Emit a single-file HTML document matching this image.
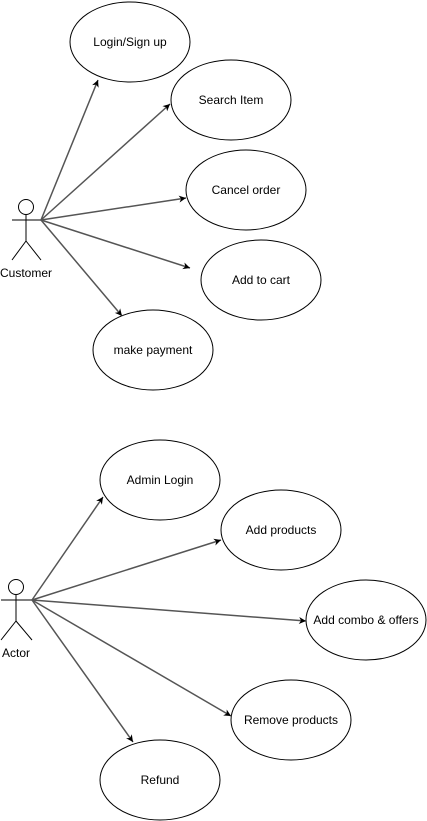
<!DOCTYPE html>
<html><head><style>body{margin:0;background:#fff}svg{display:block}</style></head><body>
<svg width="427" height="821" viewBox="0 0 427 821" xmlns="http://www.w3.org/2000/svg" font-family="Liberation Sans, sans-serif" font-size="12">
<defs><marker id="a" markerWidth="10" markerHeight="10" refX="8" refY="5" orient="auto" markerUnits="userSpaceOnUse"><path d="M1,1.5 L8,5 L1,8.5 L3,5 Z" fill="#000"/></marker></defs>
<g fill="#fff" stroke="#000" stroke-width="1">
<ellipse cx="130" cy="42" rx="60" ry="40"/>
<ellipse cx="231" cy="100" rx="60" ry="40"/>
<ellipse cx="246" cy="190" rx="60" ry="40"/>
<ellipse cx="261" cy="280" rx="60" ry="40"/>
<ellipse cx="153" cy="350" rx="60" ry="40"/>
<ellipse cx="160" cy="480" rx="60" ry="40"/>
<ellipse cx="281" cy="530" rx="60" ry="40"/>
<ellipse cx="366" cy="620" rx="60" ry="40"/>
<ellipse cx="291" cy="720" rx="60" ry="40"/>
<ellipse cx="160" cy="780" rx="60" ry="40"/>
<circle cx="26" cy="207" r="7.5"/>
<path d="M26,215V241M12,220H41M26,241L12,260M26,241L41,260" fill="none"/>
<circle cx="16" cy="587" r="7.5"/>
<path d="M16,595V621M1,600H32M16,621L1,640M16,621L32,640" fill="none"/>
</g>
<g stroke="#555" stroke-width="1.5" fill="none" marker-end="url(#a)">
<path d="M41,220L98,80"/>
<path d="M41,220L170,104"/>
<path d="M41,220L186,198"/>
<path d="M41,220L190,268"/>
<path d="M41,220L122,316"/>
<path d="M32,600L103,497"/>
<path d="M32,600L221,540"/>
<path d="M32,600L306,621"/>
<path d="M32,600L231,716"/>
<path d="M32,600L133,742"/>
</g>
<g text-anchor="middle" fill="#000">
<text x="130" y="46">Login/Sign up</text>
<text x="231" y="104">Search Item</text>
<text x="246" y="194">Cancel order</text>
<text x="261" y="284">Add to cart</text>
<text x="153" y="354">make payment</text>
<text x="160" y="484">Admin Login</text>
<text x="281" y="534">Add products</text>
<text x="366" y="624">Add combo &amp; offers</text>
<text x="291" y="724">Remove products</text>
<text x="160" y="784">Refund</text>
<text x="26" y="277">Customer</text>
<text x="16" y="657">Actor</text>
</g>
</svg>
</body></html>
